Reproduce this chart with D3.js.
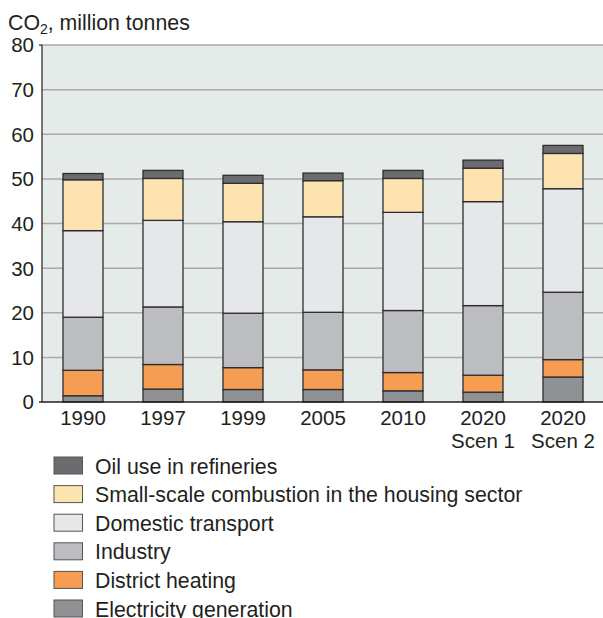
<!DOCTYPE html>
<html><head><meta charset="utf-8">
<script src="https://cdn.jsdelivr.net/npm/d3@7"></script>
<style>
body{margin:0;background:#fff;}
text{font-family:"Liberation Sans",Arial,sans-serif;fill:#231f20;}
</style></head>
<body>
<svg id="chart" width="603" height="618"></svg>
<script>
const categories = ["1990","1997","1999","2005","2010","2020|Scen 1","2020|Scen 2"];
const electricity = [1.4, 2.9, 2.8, 2.8, 2.5, 2.2, 5.6];
const districtHeating = [5.7, 5.5, 4.9, 4.4, 4.1, 3.8, 3.9];
const industry = [11.9, 12.9, 12.2, 12.9, 13.9, 15.6, 15.1];
const transport = [19.4, 19.4, 20.5, 21.4, 22.0, 23.3, 23.2];
const smallScale = [11.4, 9.4, 8.6, 8.1, 7.6, 7.5, 7.9];
const refineries = [1.4, 1.8, 1.8, 1.7, 1.8, 1.8, 1.8];
const yTicks = [0,10,20,30,40,50,60,70,80];

const seriesNames = ["Electricity generation","District heating","Industry","Domestic transport","Small-scale combustion in the housing sector","Oil use in refineries"];
const seriesValues = [electricity, districtHeating, industry, transport, smallScale, refineries];
const seriesColors = ["#909194","#f59d52","#bcbdc0","#e6e7e9","#fde3b0","#6b6c70"];

const keys = seriesNames;
const rows = categories.map((c,i)=>{const r={cat:c}; keys.forEach((k,j)=>r[k]=seriesValues[j][i]); return r;});
const stack = d3.stack().keys(keys)(rows);

const svg = d3.select("#chart");
const mLeft=42, mRight=603, mTop=45, mBottom=402;
const x = d3.scaleBand().domain(categories).range([mLeft+1,mRight]).paddingInner(0.5).paddingOuter(0.25);
const y = d3.scaleLinear().domain([0,80]).range([mBottom,mTop]);
const color = d3.scaleOrdinal().domain(keys).range(seriesColors);

svg.append("rect").attr("x",mLeft).attr("y",mTop).attr("width",mRight-mLeft).attr("height",mBottom-mTop).attr("fill","#e5ebe8");

svg.append("g").selectAll("line").data(yTicks.filter(t=>t>0)).join("line")
  .attr("x1",mLeft).attr("x2",mRight).attr("y1",d=>y(d)).attr("y2",d=>y(d))
  .attr("stroke","#a8aaad").attr("stroke-width",1.5);

svg.append("g").selectAll("text").data(yTicks).join("text")
  .attr("x",34).attr("y",d=>y(d)).attr("dy","0.36em").attr("text-anchor","end")
  .attr("font-size",20.5).text(d=>d);

const g = svg.append("g");
stack.forEach(s=>{
  g.append("g").selectAll("rect").data(s).join("rect")
    .attr("x",d=>x(d.data.cat)).attr("width",x.bandwidth())
    .attr("y",d=>y(d[1])).attr("height",d=>y(d[0])-y(d[1]))
    .attr("fill",color(s.key)).attr("stroke","#2e2e30").attr("stroke-width",1.3);
});

// axes
svg.append("line").attr("x1",mLeft).attr("x2",mLeft).attr("y1",mTop).attr("y2",mBottom).attr("stroke","#231f20").attr("stroke-width",1.2);
svg.append("line").attr("x1",39).attr("x2",mRight).attr("y1",mBottom).attr("y2",mBottom).attr("stroke","#231f20").attr("stroke-width",1.5);
svg.append("line").attr("x1",39).attr("x2",mLeft).attr("y1",mTop).attr("y2",mTop).attr("stroke","#231f20").attr("stroke-width",1.2);

// x labels
const xl = svg.append("g").selectAll("text").data(categories).join("text")
  .attr("x",d=>x(d)+x.bandwidth()/2).attr("y",425).attr("text-anchor","middle").attr("font-size",20.5);
xl.each(function(d){
  const parts=d.split("|");
  const t=d3.select(this);
  parts.forEach((p,i)=>t.append("tspan").attr("x",x(d)+x.bandwidth()/2).attr("dy",i===0?0:23).text(p));
});

// title
const title = svg.append("text").attr("x",8).attr("y",30).attr("font-size",21.3);
title.append("tspan").text("CO");
title.append("tspan").attr("font-size",14).attr("dy",4).text("2");
title.append("tspan").attr("dy",-4).text(", million tonnes");

// legend
const legendOrder = seriesNames.slice().reverse();
const lg = svg.append("g").selectAll("g").data(legendOrder).join("g")
  .attr("transform",(d,i)=>`translate(54,${457+i*28.6})`);
lg.append("rect").attr("width",28.5).attr("height",17).attr("fill",d=>color(d)).attr("stroke","#555").attr("stroke-width",1);
lg.append("text").attr("x",41).attr("y",9).attr("dy","0.36em").attr("font-size",21.3).text(d=>d);
</script>
</body></html>
